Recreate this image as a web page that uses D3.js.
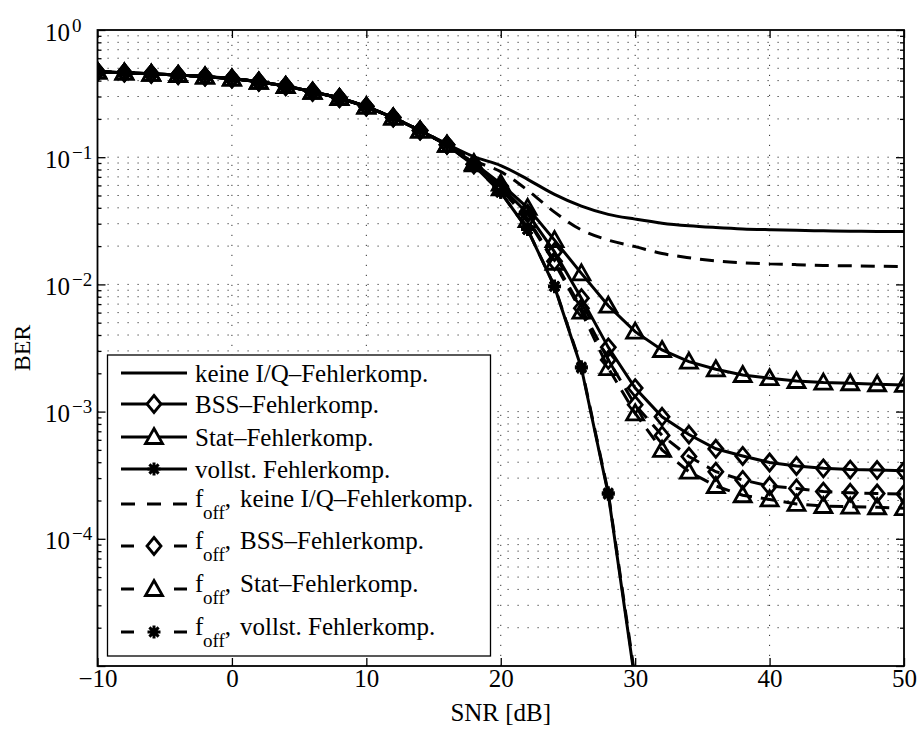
<!DOCTYPE html>
<html><head><meta charset="utf-8">
<script src="https://cdn.jsdelivr.net/npm/d3@7"></script>
<style>
body{margin:0;background:#fff}
svg{display:block}
text{font-family:"Liberation Serif","Times New Roman",serif;fill:#000}
</style>
</head><body>
<svg id="c" width="917" height="729"></svg>
<script>
// ---------------- data ----------------
const snr = [-10,-8,-6,-4,-2,0,2,4,6,8,10,12,14,16,18,20,22,24,26,28,30,32,34,36,38,40,42,44,46,48,50];
const berKeine    = [0.47,0.462,0.452,0.443,0.43,0.415,0.392,0.363,0.327,0.292,0.25,0.205,0.162,0.127,0.101,0.086,0.067,0.051,0.0412,0.0355,0.0326,0.0303,0.0289,0.0280,0.0273,0.0269,0.0266,0.0264,0.0262,0.0261,0.026];
const berBSS      = [0.47,0.462,0.452,0.443,0.43,0.415,0.392,0.363,0.327,0.292,0.25,0.205,0.162,0.125,0.088,0.059,0.036,0.018,0.0078,0.0032,0.00153,0.00091,0.00066,0.00051,0.000448,0.000398,0.000374,0.000358,0.00035,0.000347,0.000342];
const berStat     = [0.47,0.462,0.452,0.443,0.43,0.415,0.392,0.363,0.327,0.292,0.25,0.205,0.162,0.125,0.090,0.062,0.040,0.0223,0.0122,0.0068,0.00425,0.00305,0.00247,0.00215,0.00194,0.00183,0.00174,0.00169,0.00167,0.00164,0.00162];
const berVollst   = [0.47,0.462,0.452,0.443,0.43,0.415,0.392,0.363,0.327,0.292,0.25,0.205,0.162,0.125,0.086,0.053,0.027,0.0096,0.0022,0.000224,0.0000075,null,null,null,null,null,null,null,null,null,null];
const berOffKeine = [0.47,0.462,0.452,0.443,0.43,0.415,0.392,0.363,0.327,0.292,0.25,0.205,0.162,0.126,0.094,0.077,0.055,0.037,0.0268,0.0223,0.0198,0.0175,0.0162,0.0153,0.0148,0.0145,0.0143,0.0141,0.014,0.0139,0.0138];
const berOffBSS   = [0.47,0.462,0.452,0.443,0.43,0.415,0.392,0.363,0.327,0.292,0.25,0.205,0.162,0.125,0.088,0.057,0.033,0.0152,0.0065,0.00255,0.00113,0.00065,0.000443,0.000337,0.00029,0.00026,0.000249,0.000235,0.00023,0.000227,0.000225];
const berOffStat  = [0.47,0.462,0.452,0.443,0.43,0.415,0.392,0.363,0.327,0.292,0.25,0.205,0.162,0.125,0.088,0.057,0.032,0.0148,0.0061,0.0022,0.00097,0.0005,0.000337,0.00026,0.00022,0.000204,0.000188,0.000181,0.000179,0.000177,0.000174];
const berOffVollst= [0.47,0.462,0.452,0.443,0.43,0.415,0.392,0.363,0.327,0.292,0.25,0.205,0.162,0.125,0.086,0.053,0.027,0.0097,0.00225,0.00023,0.000008,null,null,null,null,null,null,null,null,null,null];

const seriesLabels = ["keine I/Q–Fehlerkomp.","BSS–Fehlerkomp.","Stat–Fehlerkomp.","vollst. Fehlerkomp.",
                      "keine I/Q–Fehlerkomp.","BSS–Fehlerkomp.","Stat–Fehlerkomp.","vollst. Fehlerkomp."];
const seriesFoff  = [false,false,false,false,true,true,true,true];
const seriesMarker= ["none","diamond","triangle","star","none","diamond","triangle","star"];
const seriesValues= [berKeine,berBSS,berStat,berVollst,berOffKeine,berOffBSS,berOffStat,berOffVollst];
const xTickValues = [-10,0,10,20,30,40,50];
const yLabelValues= [1,1e-1,1e-2,1e-3,1e-4];
const xTitle = "SNR [dB]";
const yTitle = "BER";

// ---------------- layout ----------------
const L=97.5, R=904, T=30, B=666;
const svg = d3.select("#c");
svg.append("rect").attr("width",917).attr("height",729).attr("fill","#fff");
const x = d3.scaleLinear().domain([-10,50]).range([L,R]);
const y = d3.scaleLog().domain([1e-5,1]).range([B,T]);

const allY = y.ticks();
const isMajor = v => Math.abs(Math.log10(v)-Math.round(Math.log10(v)))<1e-9;
const majorY = allY.filter(isMajor);
const minorY = allY.filter(v=>!isMajor(v));

// grid
const grid = svg.append("g").attr("stroke","#333").attr("stroke-width",1).attr("stroke-dasharray","1.2,8.8");
grid.selectAll("line.h").data(allY.filter(v=>v>1e-5*1.0001 && v<0.9999)).join("line")
  .attr("x1",L).attr("x2",R).attr("y1",d=>y(d)).attr("y2",d=>y(d));
grid.selectAll("line.v").data(xTickValues.filter(v=>v>-10&&v<50)).join("line")
  .attr("x1",d=>x(d)).attr("x2",d=>x(d)).attr("y1",B).attr("y2",T);

// axes ticks
const fs = 25;
const gx = svg.append("g").attr("transform",`translate(0,${B})`)
  .call(d3.axisBottom(x).tickValues(xTickValues).tickSizeInner(-8).tickSizeOuter(0).tickPadding(3).tickFormat(d3.format("d")));
const gxt = svg.append("g").attr("transform",`translate(0,${T})`)
  .call(d3.axisTop(x).tickValues(xTickValues).tickSizeInner(-8).tickSizeOuter(0).tickFormat(""));
const gyl = svg.append("g").attr("transform",`translate(${L},0)`)
  .call(d3.axisLeft(y).tickValues(majorY).tickSizeInner(-8).tickSizeOuter(0).tickFormat(""));
const gylm = svg.append("g").attr("transform",`translate(${L},0)`)
  .call(d3.axisLeft(y).tickValues(minorY).tickSizeInner(-4).tickSizeOuter(0).tickFormat(""));
const gyr = svg.append("g").attr("transform",`translate(${R},0)`)
  .call(d3.axisRight(y).tickValues(majorY).tickSizeInner(-8).tickSizeOuter(0).tickFormat(""));
const gyrm = svg.append("g").attr("transform",`translate(${R},0)`)
  .call(d3.axisRight(y).tickValues(minorY).tickSizeInner(-4).tickSizeOuter(0).tickFormat(""));
[gx,gxt,gyl,gylm,gyr,gyrm].forEach(g=>{
  g.select(".domain").remove();
  g.selectAll(".tick line").attr("stroke","#000").attr("stroke-width",1.3);
});
gx.selectAll(".tick text").attr("font-size",fs).attr("font-family","Liberation Serif");

// y labels 10^k
const ylab = svg.append("g").attr("transform",`translate(${L},0)`)
  .call(d3.axisLeft(y).tickValues(yLabelValues).tickSize(0).tickFormat(""));
ylab.select(".domain").remove();
ylab.selectAll(".tick").each(function(d){
  const g = d3.select(this);
  g.selectAll("text").remove();
  g.append("text").attr("x",-27.5).attr("y",10).attr("text-anchor","end").attr("font-size",fs).text("10");
  const e = Math.round(Math.log10(d));
  g.append("text").attr("x",-25.5).attr("y",1).attr("text-anchor","start").attr("font-size",19)
    .text(e===0?"0":"\u2212"+Math.abs(e));
});

// titles
svg.append("text").attr("x",(L+R)/2).attr("y",721).attr("text-anchor","middle").attr("font-size",25).text(xTitle);
svg.append("text").attr("transform",`translate(30,${(T+B)/2}) rotate(-90)`).attr("text-anchor","middle").attr("font-size",24).text(yTitle);

// ---------------- series ----------------
svg.append("clipPath").attr("id","clip").append("rect").attr("x",L).attr("y",T).attr("width",R-L).attr("height",B-T);
const markerPath = {
  diamond: "M0,-8.5L7,0L0,8.5L-7,0Z",
  triangle: "M0,-8.5L8.5,6.5L-8.5,6.5Z",
  star: "M-6.5,0H6.5M0,-6.5V6.5M-4.6,-4.6L4.6,4.6M-4.6,4.6L4.6,-4.6",
  none: ""
};
const plot = svg.append("g").attr("clip-path","url(#clip)");
const lineGen = d3.line().defined(d=>d.v!=null).x(d=>x(d.s)).y(d=>y(d.v));
const smoothGen = d3.line().defined(d=>d.v!=null).x(d=>x(d.s)).y(d=>y(d.v)).curve(d3.curveMonotoneX);
seriesValues.forEach((vals,i)=>{
  const pts = snr.map((s,j)=>({s,v:vals[j]}));
  plot.append("path").datum(pts)
    .attr("d", seriesMarker[i]==="none" ? smoothGen : lineGen)
    .attr("fill","none").attr("stroke","#000").attr("stroke-width",3)
    .attr("stroke-dasharray", seriesFoff[i] ? "14,9" : null);
  if(seriesMarker[i]!=="none"){
    plot.selectAll(null).data(pts.filter(p=>p.v!=null)).join("path")
      .attr("transform",p=>`translate(${x(p.s)},${y(p.v)})`)
      .attr("d",markerPath[seriesMarker[i]])
      .attr("fill","none").attr("stroke","#000").attr("stroke-width",seriesMarker[i]==="star"?3:2.8);
  }
});

// frame
svg.append("rect").attr("x",L).attr("y",T).attr("width",R-L).attr("height",B-T)
  .attr("fill","none").attr("stroke","#000").attr("stroke-width",1.8);

// ---------------- legend ----------------
const lg = svg.append("g");
lg.append("rect").attr("x",107.5).attr("y",355).attr("width",383).attr("height",301)
  .attr("fill","#fff").attr("stroke","#000").attr("stroke-width",1.3);
const rowY = [373,404,437,469,504,546,589,632];
seriesLabels.forEach((lab,i)=>{
  const yy = rowY[i];
  const x1=121, x2=187, xm=154;
  if(!seriesFoff[i]){
    lg.append("line").attr("x1",x1).attr("x2",x2).attr("y1",yy).attr("y2",yy).attr("stroke","#000").attr("stroke-width",3);
  } else if(seriesMarker[i]==="none"){
    lg.append("line").attr("x1",x1).attr("x2",x2).attr("y1",yy).attr("y2",yy).attr("stroke","#000").attr("stroke-width",3).attr("stroke-dasharray","14,12");
  } else {
    lg.append("line").attr("x1",x1).attr("x2",x1+13).attr("y1",yy).attr("y2",yy).attr("stroke","#000").attr("stroke-width",3);
    lg.append("line").attr("x1",x2-13).attr("x2",x2).attr("y1",yy).attr("y2",yy).attr("stroke","#000").attr("stroke-width",3);
  }
  if(seriesMarker[i]!=="none"){
    lg.append("path").attr("transform",`translate(${xm},${yy})`).attr("d",markerPath[seriesMarker[i]])
      .attr("fill","#fff").attr("stroke","#000").attr("stroke-width",seriesMarker[i]==="star"?3:2.8);
  }
  if(!seriesFoff[i]){
    lg.append("text").attr("x",195).attr("y",yy+9).attr("font-size",25).text(lab);
  } else {
    const t = lg.append("text").attr("x",195).attr("y",yy+3).attr("font-size",25);
    t.append("tspan").text("f");
    t.append("tspan").attr("x",203).attr("dy",12).attr("font-size",19).text("off");
    t.append("tspan").attr("dy",-12).text(",");
    t.append("tspan").attr("x",240).text(lab);
  }
});
</script>
</body></html>
